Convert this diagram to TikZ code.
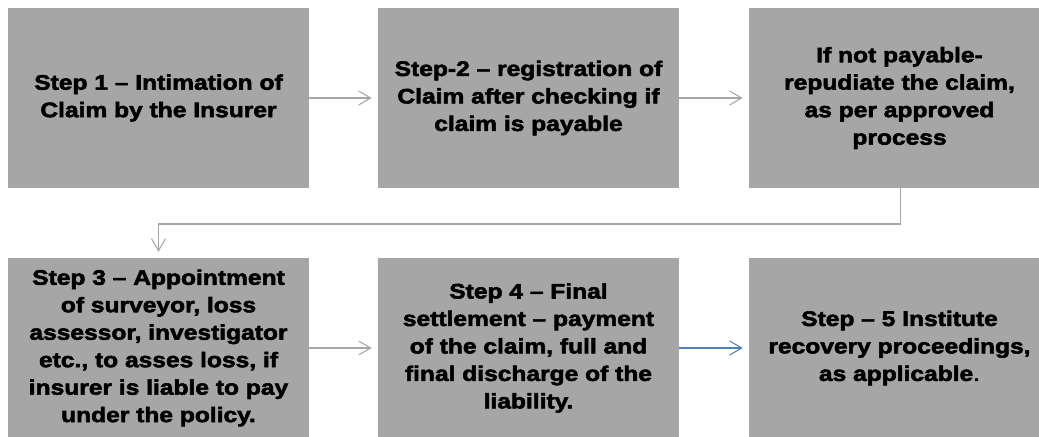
\documentclass[tikz,border=0pt]{standalone}
\usepackage{fontspec}
\usetikzlibrary{arrows.meta}
\newfontfamily\boxfont{Liberation Sans}[FakeStretch=1.17,FakeBold=2.6]
\definecolor{boxgray}{HTML}{A6A6A6}
\definecolor{arrgray}{HTML}{A6A6A6}
\definecolor{arrblue}{HTML}{4F81BD}
\tikzset{
  stepbox/.style={fill=boxgray, draw=none, inner sep=0pt, minimum width=225.75pt, minimum height=135pt,
    align=center, font=\boxfont\bfseries\fontsize{15.75pt}{20.6pt}\selectfont, text=black},
  conn/.style={draw=arrgray, line width=0.8pt, -{Straight Barb[length=9pt,width=10.5pt,line width=0.8pt]}, shorten >=4.5pt},
  connb/.style={conn, draw=arrblue}
}
\begin{document}
\begin{tikzpicture}[x=0.75pt,y=-0.75pt]
\useasboundingbox (0,0) rectangle (1039,436);
\node[stepbox] (b1) at (158.5,98) {Step 1 – Intimation of\\Claim by the Insurer};
\node[stepbox] (b2) at (528.5,98) {Step-2 – registration of\\Claim after checking if\\claim is payable};
\node[stepbox] (b3) at (899.5,98) {If not payable-\\repudiate the claim,\\as per approved\\process};
\node[stepbox] (b4) at (158.5,348) {Step 3 – Appointment\\of surveyor, loss\\assessor, investigator\\etc., to asses loss, if\\insurer is liable to pay\\under the policy.};
\node[stepbox] (b5) at (528.5,348) {Step 4 – Final\\settlement – payment\\of the claim, full and\\final discharge of the\\liability.};
\node[stepbox] (b6) at (899.5,348) {Step – 5 Institute\\recovery proceedings,\\as applicable{\mdseries .}};
\coordinate (k1) at ([xshift=1pt]b3.south |- 0,224);
\coordinate (k2) at (b4.north |- 0,224);
\draw[conn] (b1) -- (b2);
\draw[conn] (b2) -- (b3);
\draw[conn] ([xshift=1pt]b3.south) -- (k1) -- (k2) -- (b4.north);
\draw[conn] (b4) -- (b5);
\draw[connb] (b5) -- (b6);
\end{tikzpicture}
\end{document}
